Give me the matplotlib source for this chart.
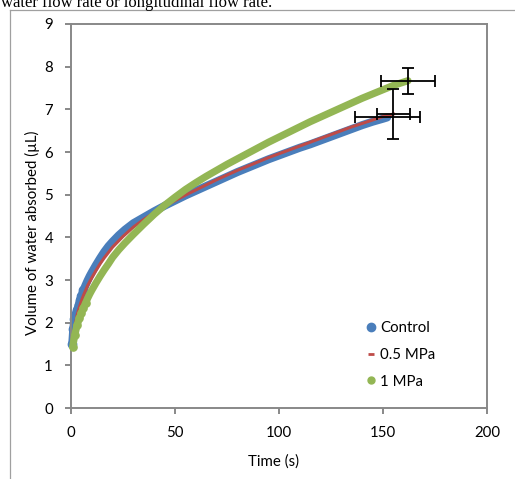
import matplotlib
matplotlib.use('Agg')
import matplotlib.pyplot as plt
from matplotlib.lines import Line2D

plt.rcParams['font.family'] = ['Lato', 'DejaVu Sans']

# Control
t_control = [0.6, 1.1, 1.6, 2.3, 3.0, 3.7, 4.4, 5, 6, 7, 8, 9, 10, 12, 14, 16, 18, 20,
             23, 26, 30, 35, 40, 45, 50, 55, 60, 65, 70, 75, 80, 85, 90, 95, 100,
             105, 110, 115, 120, 125, 130, 135, 140, 145, 150, 152]
v_control = [1.50, 1.85, 2.08, 2.20, 2.30, 2.42, 2.53, 2.63, 2.76, 2.88, 2.99, 3.09, 3.18,
             3.35, 3.51, 3.66, 3.79, 3.90, 4.05, 4.18, 4.33, 4.47, 4.61, 4.74, 4.86, 4.98,
             5.09, 5.20, 5.31, 5.42, 5.53, 5.63, 5.73, 5.83, 5.92, 6.01, 6.10, 6.18, 6.27,
             6.36, 6.45, 6.54, 6.63, 6.71, 6.78, 6.81]

# 0.5 MPa
t_05 = [1.5, 2, 3, 4, 5, 6, 8, 10, 12, 14, 16, 20, 25, 30, 35, 40, 45, 50, 55, 60, 65,
        70, 75, 80, 85, 90, 95, 100, 105, 110, 115, 120, 125, 130, 135, 140, 145, 150, 155]
v_05 = [1.80, 1.96, 2.19, 2.36, 2.51, 2.64, 2.87, 3.05, 3.22, 3.38, 3.52, 3.77, 4.02, 4.24,
        4.42, 4.58, 4.72, 4.86, 4.99, 5.11, 5.23, 5.35, 5.46, 5.57, 5.67, 5.77, 5.87, 5.96,
        6.05, 6.14, 6.23, 6.32, 6.41, 6.50, 6.59, 6.67, 6.75, 6.83, 6.89]

# 1 MPa
t_1 = [0.8, 1.8, 2.9, 4, 5, 6, 7, 8, 9, 10, 12, 14, 16, 18, 20, 23, 26, 30, 35, 40, 45,
       50, 55, 60, 65, 70, 75, 80, 85, 90, 95, 100, 105, 110, 115, 120, 125, 130, 135,
       140, 145, 150, 155, 160, 162]
v_1 = [1.44, 1.71, 1.94, 2.10, 2.23, 2.35, 2.46, 2.57, 2.67, 2.76, 2.93, 3.09, 3.24, 3.38,
       3.53, 3.71, 3.87, 4.07, 4.31, 4.54, 4.75, 4.94, 5.12, 5.28, 5.43, 5.57, 5.71, 5.84,
       5.97, 6.10, 6.23, 6.35, 6.47, 6.59, 6.71, 6.82, 6.93, 7.04, 7.15, 7.26, 7.36, 7.46,
       7.56, 7.64, 7.67]

# end points with error bars: control, 0.5 MPa, 1 MPa
err_t = [152, 155, 162]
err_v = [6.81, 6.89, 7.67]
err_xe = [15.7, 8.0, 13.0]
err_ye = [0.0, 0.58, 0.30]

blue = '#4A7EBB'
red = '#BE4B48'
green = '#93B654'
gray = '#888888'

W, H = 515, 479
fig = plt.figure(figsize=(W / 100, H / 100), dpi=100)
ax = fig.add_axes([71 / W, (H - 408) / H, 416 / W, 384 / H])

ax.plot(t_control, v_control, '-o', color=blue, lw=5.8, ms=6, markevery=slice(0, 9),
        solid_capstyle='round', solid_joinstyle='round', clip_on=False, zorder=2)
ax.plot(t_05, v_05, '-', color=red, lw=2.2, clip_on=False, zorder=3)
ax.plot(t_1, v_1, '-o', color=green, lw=5.2, ms=5.2, markevery=slice(0, 7),
        solid_capstyle='round', solid_joinstyle='round', clip_on=False, zorder=4)

for x, y, xe, ye in zip(err_t, err_v, err_xe, err_ye):
    ax.errorbar([x], [y], xerr=[xe], yerr=[ye] if ye > 0 else None, fmt='none',
                ecolor='black', elinewidth=1.3, capsize=4.2, capthick=1.3, zorder=5)

ax.set_xlim(0, 200)
ax.set_ylim(0, 9)
ax.set_xticks([0, 50, 100, 150, 200])
ax.set_yticks(range(0, 10))
for s in ax.spines.values():
    s.set_color(gray)
    s.set_linewidth(1.4)
ax.tick_params(direction='out', length=4, width=1.4, color=gray, labelsize=10.8, pad=9)

handles = [Line2D([], [], ls='none', marker='o', ms=6, color=blue),
           Line2D([], [], ls='none', marker='_', ms=4, mew=2, color=red),
           Line2D([], [], ls='none', marker='o', ms=5, color=green)]
ax.legend(handles, ['Control', '0.5 MPa', '1 MPa'], loc='upper left',
          bbox_to_anchor=(0.706, 0.226), frameon=False, fontsize=10.8,
          handlelength=0.8, handletextpad=0.22, labelspacing=0.85, borderpad=0,
          borderaxespad=0)

fig.text(274 / W, 1 - 462 / H, 'Time (s)', ha='center', va='center', fontsize=10.8)
fig.text(32 / W, 1 - 233 / H, 'Volume of water absorbed (µL)', rotation=90,
         ha='center', va='center', fontsize=10.8)

# surrounding frame and cut-off caption line above the chart
fig.add_artist(Line2D([10 / W, 1], [1 - 10 / H, 1 - 10 / H], transform=fig.transFigure,
                      color='#a0a0a0', lw=0.9))
fig.add_artist(Line2D([10 / W, 10 / W], [0, 1 - 10 / H], transform=fig.transFigure,
                      color='#a0a0a0', lw=0.9))
fig.text(1 / W, 1 - 6.7 / H, 'water flow rate or longitudinal flow rate.',
         family='Liberation Serif', fontsize=12, va='baseline', ha='left')

fig.savefig('out.png', dpi=100)
